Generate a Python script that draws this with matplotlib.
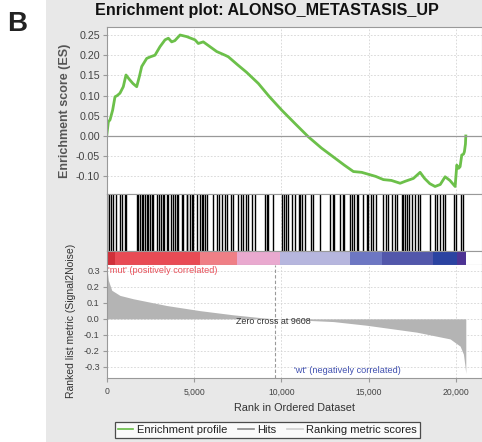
import numpy as np
import matplotlib
matplotlib.use("Agg")
import matplotlib.pyplot as plt
from matplotlib.lines import Line2D
from matplotlib.patches import Rectangle

plt.rcParams['font.family'] = ['Liberation Sans', 'DejaVu Sans']

# running enrichment score (rank, ES)
es_rank = [0, 95, 190, 340, 475, 600, 760, 950, 1105, 1300, 1500, 1718, 1870, 2005,
           2290, 2500, 2765, 3050, 3340, 3530, 3720, 3900, 4200, 4580, 5055, 5245,
           5530, 6300, 6775, 6965, 7500, 8000, 8683, 9300, 10020, 10800, 11545,
           12300, 13075, 13600, 14125, 14600, 15080, 15400, 15843, 16300, 16800,
           17100, 17560, 17944, 18200, 18500, 18800, 19100, 19375, 19650, 19950,
           20045, 20150, 20234, 20330, 20430, 20480, 20540, 20560]
es_vals = [0.0, 0.035, 0.040, 0.064, 0.097, 0.100, 0.106, 0.122, 0.151, 0.140,
           0.130, 0.122, 0.147, 0.172, 0.192, 0.196, 0.200, 0.221, 0.238, 0.242,
           0.233, 0.236, 0.250, 0.246, 0.238, 0.229, 0.233, 0.209, 0.200, 0.196,
           0.176, 0.158, 0.130, 0.098, 0.064, 0.030, -0.002, -0.030, -0.055,
           -0.072, -0.088, -0.090, -0.096, -0.100, -0.108, -0.110, -0.117, -0.112,
           -0.105, -0.090, -0.105, -0.118, -0.125, -0.120, -0.101, -0.110, -0.125,
           -0.072, -0.080, -0.076, -0.047, -0.045, -0.039, -0.020, 0.0]

# positions of gene set members in the ranked list
hits = [35, 130, 245, 380, 515, 760, 860, 1050, 1105,
        1720, 1810, 1905, 2005, 2095, 2195, 2290, 2380, 2480, 2575, 2670,
        2900, 2995, 3095, 3205, 3280, 3435, 3530, 3665, 3815, 3910, 4045, 4100,
        4295, 4385, 4580, 4615, 4770, 4870, 4960, 5155, 5345, 5440, 5530, 5630,
        5725, 6105, 6300, 6450, 6585, 6775, 6870, 7120, 7250, 7535, 7690, 7825,
        7960, 8110, 8305, 8495, 9065, 9165, 9260, 9545, 10020, 10170, 10270,
        10365, 10595, 10785, 11015, 11070, 11165, 11355, 11700, 11830, 12215,
        12785, 12975, 13035, 13360, 13550, 13610, 13935, 14030, 14165, 14320,
        14410, 14660, 14890, 14985, 15120, 15235, 15425, 15845, 16000, 16130,
        16325, 16515, 16610, 16895, 16990, 17085, 17180, 17330, 17470, 17655,
        17850, 17945, 18515, 18800, 18935, 19090, 19245, 19375, 19890, 20005,
        20275, 20425]

# ranked list metric (Signal2Noise)
rk_rank = [0, 30, 95, 290, 760, 1525, 3435, 5345, 7250, 8780, 9608, 12980,
           14890, 17755, 19660, 20235, 20425, 20520, 20560]
rk_vals = [0.33, 0.30, 0.24, 0.178, 0.146, 0.125, 0.083, 0.051, 0.025, 0.008,
           0.0, -0.017, -0.04, -0.083, -0.125, -0.17, -0.22, -0.30, -0.34]

# colour band segments
band_edges = [0, 475, 5345, 7445, 9925, 13935, 15750, 18705, 20045, 20560]
band_colors = ['#d0303a', '#e84b55', '#ef7f86', '#e9a9cf', '#b6b6de',
               '#6d77c3', '#5257ab', '#2b43a1', '#4d3394']

zero_cross = 9608
xmax = 21488

W, H = 482, 442
fig = plt.figure(figsize=(W / 100, H / 100), dpi=100)
fig.patch.set_facecolor('white')
fig.patches.append(Rectangle((46 / W, 0), 1 - 46 / W, 1, transform=fig.transFigure,
                             facecolor='#e8e8e8', edgecolor='none', zorder=-10))


def box(top, bottom):
    return [106.7 / W, 1 - bottom / H, 1 - 106.7 / W, (bottom - top) / H]


spine_c = '#999999'
grid_kw = dict(color='#d4d4d4', linestyle=(0, (2, 2)), linewidth=0.6)

# --- enrichment score ---
ax = fig.add_axes(box(27, 194))
ax.plot(es_rank, es_vals, color='#6cc04a', linewidth=2.0, solid_joinstyle='round')
ax.axhline(0, color='#999999', linewidth=0.9)
ax.set_xlim(0, xmax)
ax.set_ylim(-0.1436, 0.2698)
ax.set_yticks([-0.10, -0.05, 0.0, 0.05, 0.10, 0.15, 0.20, 0.25])
ax.set_yticklabels(['%.2f' % v for v in ax.get_yticks()])
ax.set_xticks([5000, 10000, 15000, 20000])
ax.tick_params(axis='x', length=0, labelbottom=False)
ax.tick_params(axis='y', length=3, color=spine_c, labelsize=7.7, labelcolor='#444444', pad=2)
ax.grid(True, **grid_kw)
ax.set_axisbelow(True)
for s in ax.spines.values():
    s.set_color(spine_c)
    s.set_linewidth(0.8)
ax.set_ylabel('Enrichment score (ES)', fontsize=9, fontweight='bold', color='#555555', labelpad=3)

# --- hits ---
axh = fig.add_axes(box(194, 251))
axh.vlines(hits, 0, 1, color='black', linewidth=1.0)
axh.set_xlim(0, xmax)
axh.set_ylim(0, 1)
axh.set_xticks([5000, 10000, 15000, 20000])
axh.set_yticks([])
axh.tick_params(axis='x', length=0, labelbottom=False)
axh.grid(True, axis='x', **grid_kw)
axh.set_axisbelow(True)
for s in axh.spines.values():
    s.set_color(spine_c)
    s.set_linewidth(0.8)

# --- colour band ---
axb = fig.add_axes(box(251, 265))
for i, c in enumerate(band_colors):
    axb.axvspan(band_edges[i], band_edges[i + 1], color=c, linewidth=0)
axb.set_xlim(0, xmax)
axb.set_ylim(0, 1)
axb.set_xticks([])
axb.set_yticks([])
for s in axb.spines.values():
    s.set_color(spine_c)
    s.set_linewidth(0.8)

# --- ranked list metric ---
axr = fig.add_axes(box(265, 377.7))
axr.fill_between(rk_rank, 0, rk_vals, color='#b4b4b4', linewidth=0)
axr.axvline(zero_cross, color='#999999', linestyle=(0, (3, 2)), linewidth=0.8)
axr.set_xlim(0, xmax)
axr.set_ylim(-0.3667, 0.3355)
axr.set_yticks([-0.3, -0.2, -0.1, 0.0, 0.1, 0.2, 0.3])
axr.set_yticklabels(['%.1f' % v for v in axr.get_yticks()])
axr.set_xticks([0, 5000, 10000, 15000, 20000])
axr.set_xticklabels(['{:,}'.format(v) for v in [0, 5000, 10000, 15000, 20000]])
axr.tick_params(axis='y', length=3, color=spine_c, labelsize=6.6, labelcolor='#444444', pad=2)
axr.tick_params(axis='x', length=3, color=spine_c, labelsize=6.2, labelcolor='#444444', pad=4)
axr.grid(True, **grid_kw)
axr.set_axisbelow(True)
for s in axr.spines.values():
    s.set_color(spine_c)
    s.set_linewidth(0.8)
axr.spines['top'].set_visible(False)
axr.set_ylabel('Ranked list metric (Signal2Noise)', fontsize=7.5, color='#333333', labelpad=6)
axr.set_xlabel('Rank in Ordered Dataset', fontsize=7.8, color='#333333', labelpad=5)
axr.text(100, 0.30, "'mut' (positively correlated)", fontsize=6.6, color='#e8505a',
         ha='left', va='center')
axr.text(zero_cross - 50, -0.016, 'Zero cross at %d' % zero_cross, fontsize=6.4,
         color='#333333', ha='center', va='center')
axr.text(13800, -0.32, "'wt' (negatively correlated)", fontsize=6.6, color='#4050b0',
         ha='center', va='center')

# --- titles ---
fig.text(267 / W, 1 - 11 / H, 'Enrichment plot: ALONSO_METASTASIS_UP', fontsize=11.6,
         fontweight='bold', ha='center', va='center', color='#111111')
fig.text(7 / W, 1 - 24 / H, 'B', fontsize=20, fontweight='bold', ha='left', va='center',
         color='#222222')

# --- legend ---
handles = [Line2D([], [], color='#66bb44', linewidth=1.2),
           Line2D([], [], color='#888888', linewidth=1.2),
           Line2D([], [], color='#d0d0d0', linewidth=1.2)]
labels = ['Enrichment profile', 'Hits', 'Ranking metric scores']
leg = fig.legend(handles, labels, loc='center', bbox_to_anchor=(267.5 / W, 1 - 430 / H),
                 ncol=3, fontsize=8, frameon=True, fancybox=False, handlelength=1.4,
                 handletextpad=0.3, columnspacing=1.0, borderpad=0.3)
leg.get_frame().set_edgecolor('#222222')
leg.get_frame().set_linewidth(0.9)
for t in leg.get_texts():
    t.set_color('#222222')

fig.savefig('out.png', dpi=100)
